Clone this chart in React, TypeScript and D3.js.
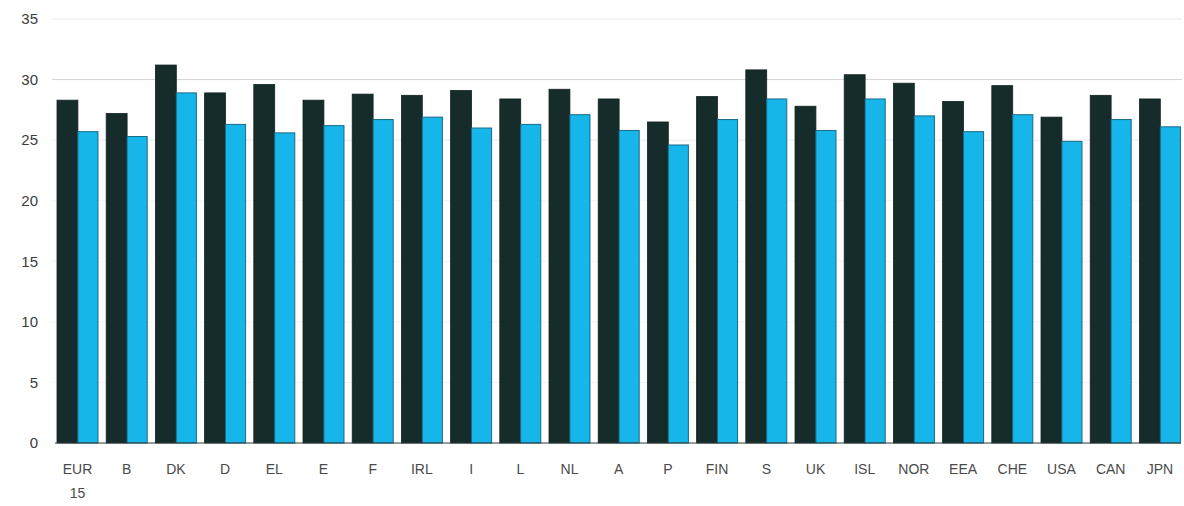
import React from "react";
import * as d3 from "d3";

const categories = ["EUR 15", "B", "DK", "D", "EL", "E", "F", "IRL", "I", "L", "NL", "A", "P", "FIN", "S", "UK", "ISL", "NOR", "EEA", "CHE", "USA", "CAN", "JPN"];
const seriesDark = [28.3, 27.2, 31.2, 28.9, 29.6, 28.3, 28.8, 28.7, 29.1, 28.4, 29.2, 28.4, 26.5, 28.6, 30.8, 27.8, 30.4, 29.7, 28.2, 29.5, 26.9, 28.7, 28.4];
const seriesCyan = [25.7, 25.3, 28.9, 26.3, 25.6, 26.2, 26.7, 26.9, 26.0, 26.3, 27.1, 25.8, 24.6, 26.7, 28.4, 25.8, 28.4, 27.0, 25.7, 27.1, 24.9, 26.7, 26.1];
const yTicks = [0, 5, 10, 15, 20, 25, 30, 35];

export default function App() {
  const W = 1184, H = 506;
  const x = d3.scaleBand<string>().domain(categories).range([57, 1180.4]).paddingInner(0.167).paddingOuter(0);
  const y = d3.scaleLinear().domain([0, 35]).range([443, 19]);
  const bw = x.bandwidth();
  const dw = bw * 0.51;
  const cw = bw - dw;
  const gridColor = (t: number) => (t === 30 ? "#d8d2d2" : t === 35 || t === 25 ? "#ebe8e8" : "#f4f4f4");
  return (
    <svg width={W} height={H} style={{ position: "absolute", left: 0, top: 0, background: "#fff" }} fontFamily="Liberation Sans, Arial, sans-serif">
      {yTicks.map((t) => (
        <g key={t}>
          {t > 0 && <line x1={52} x2={1182} y1={y(t)} y2={y(t)} stroke={gridColor(t)} strokeWidth={1} />}
          <text x={38} y={y(t)} dy="0.35em" textAnchor="end" fontSize={15} fill="#3c3c3c">{t}</text>
        </g>
      ))}
      {categories.map((c, i) => {
        const x0 = x(c)!;
        return (
          <g key={c}>
            <rect x={x0} y={y(seriesDark[i])} width={dw} height={y(0) - y(seriesDark[i])} fill="#162c2b" stroke="#122222" strokeWidth={0.8} />
            <rect x={x0 + dw} y={y(seriesCyan[i])} width={cw} height={y(0) - y(seriesCyan[i])} fill="#17b6ea" stroke="#1a6a88" strokeWidth={1} />
          </g>
        );
      })}
      <line x1={55} x2={1181} y1={y(0)} y2={y(0)} stroke="#2a3a3a" strokeWidth={1.2} />
      {categories.map((c) => {
        const cx = x(c)! + bw / 2;
        const parts = c.split(" ");
        return (
          <text key={c} x={cx} y={474} textAnchor="middle" fontSize={14} fill="#4a4a4a">
            {parts.map((p, k) => (
              <tspan key={k} x={cx} dy={k === 0 ? 0 : 24}>{p}</tspan>
            ))}
          </text>
        );
      })}
    </svg>
  );
}
